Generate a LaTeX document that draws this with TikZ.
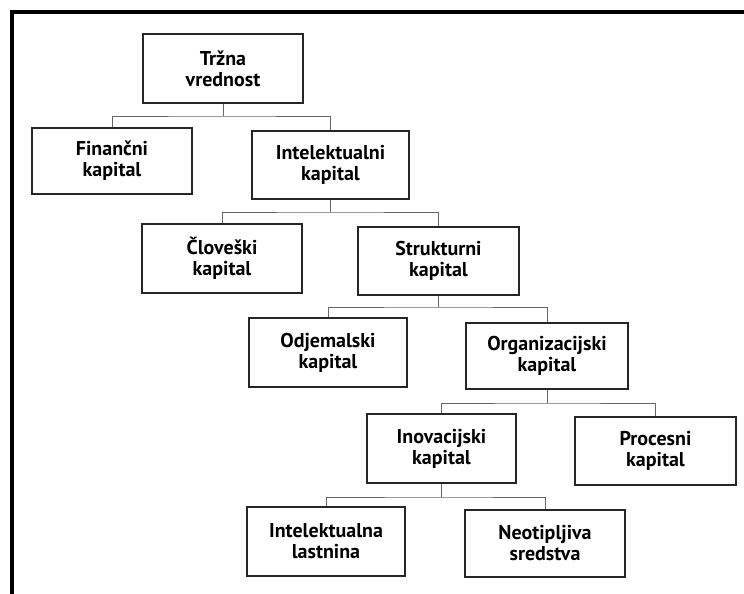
\documentclass[tikz,border=0pt]{standalone}
\usepackage{fontspec}
\setmainfont{PT Sans}
\begin{document}
\begin{tikzpicture}[x=1pt,y=-1pt,
  box/.style={draw=black!85,line width=1.3pt,fill=white,align=center,
    inner sep=0pt,font=\bfseries\fontsize{20}{21}\selectfont},
  link/.style={draw=black!60,line width=0.9pt}]
\useasboundingbox (0,0) rectangle (744,594);
% outer frame (left and top edges)
\draw[line width=4pt,line cap=rect] (12,594) -- (12,12) -- (744,12);

\node[box,minimum width=160pt,minimum height=69pt] (trz) at (223,68.5) {Tržna\\vrednost};
\node[box,minimum width=160pt,minimum height=66pt] (fin) at (112,161) {Finančni\\kapital};
\node[box,minimum width=157pt,minimum height=68pt] (int) at (330.5,165) {Intelektualni\\kapital};
\node[box,minimum width=160pt,minimum height=69pt] (clo) at (222,258.5) {Človeški\\kapital};
\node[box,minimum width=161pt,minimum height=68pt] (str) at (438.5,261) {Strukturni\\kapital};
\node[box,minimum width=158pt,minimum height=69pt] (odj) at (328,352.5) {Odjemalski\\kapital};
\node[box,minimum width=162pt,minimum height=66pt] (org) at (547,356) {Organizacijski\\kapital};
\node[box,minimum width=149pt,minimum height=69pt] (ino) at (441.5,448.5) {Inovacijski\\kapital};
\node[box,minimum width=161pt,minimum height=68pt] (pro) at (655.5,451) {Procesni\\kapital};
\node[box,minimum width=158pt,minimum height=69pt] (il) at (326,541.5) {Intelektualna\\lastnina};
\node[box,minimum width=160pt,minimum height=67pt] (neo) at (545,543.5) {Neotipljiva\\sredstva};

% tree connectors: parent down to a bus line, then down to each child
\foreach \p/\bus/\a/\b in {trz/116/fin/int, int/212/clo/str, str/307/odj/org,
                          org/403/ino/pro, ino/497/il/neo}{
  \coordinate (\p-bus) at (\p.south |- 0,\bus);
  \draw[link] (\p.south) -- (\p-bus);
  \draw[link] (\a.north) |- (\p-bus) -| (\b.north);
}
\end{tikzpicture}
\end{document}
